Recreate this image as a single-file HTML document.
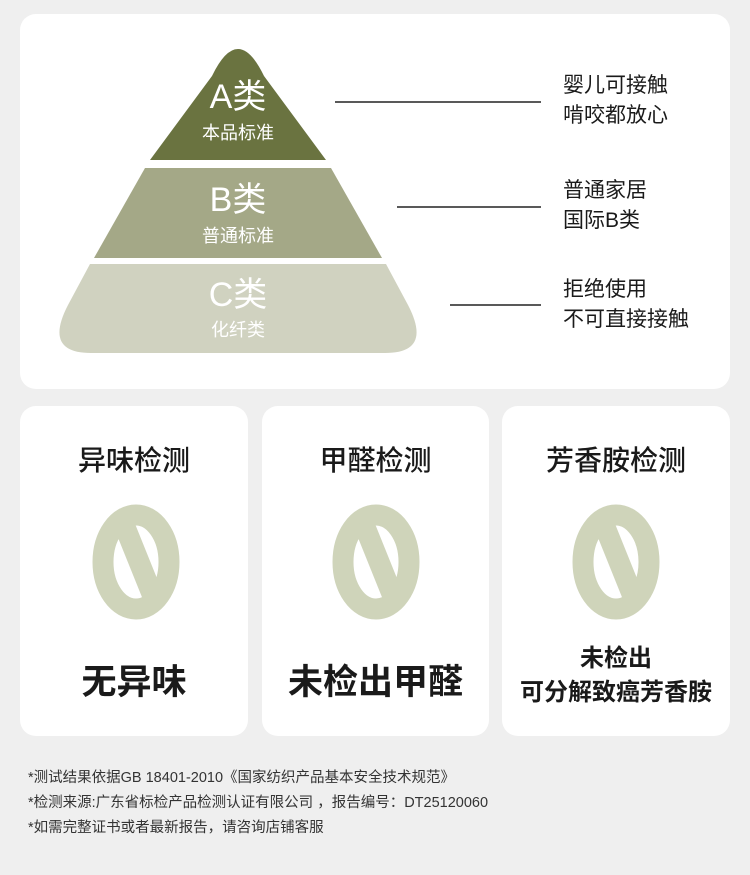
<!DOCTYPE html>
<html><head><meta charset="utf-8"><style>
*{margin:0;padding:0;box-sizing:border-box}
body{width:750px;height:875px;background:#efefef;font-family:"Liberation Sans","Noto Sans CJK SC",sans-serif;position:relative;overflow:hidden;color:#1a1a1a}
.card{position:absolute;background:#fff;border-radius:16px}
.t{position:absolute;white-space:nowrap}
.ct{position:absolute;left:0;right:0;text-align:center;white-space:nowrap}
</style></head><body>
<div class="card" style="left:20px;top:14px;width:710px;height:375px"></div>
<svg style="position:absolute;left:0;top:0" width="750" height="400">
<path d="M150,160 L212,76 Q238,22 264,76 L326,160 Z" fill="#6a7340"/>
<path d="M145,168 L331,168 L382,258 L94,258 Z" fill="#a4a887"/>
<path d="M90,264 L386,264 L408,305 Q433,353 385,353 L91,353 Q43,353 68,305 Z" fill="#d0d2c0"/>
<line x1="335" y1="102" x2="541" y2="102" stroke="#222" stroke-width="1.5"/>
<line x1="397" y1="207" x2="541" y2="207" stroke="#222" stroke-width="1.5"/>
<line x1="450" y1="305" x2="541" y2="305" stroke="#222" stroke-width="1.5"/>
</svg>
<div class="t" style="left:188px;top:78px;width:100px;text-align:center;color:#fff;font-size:34px;line-height:38px">A类</div>
<div class="t" style="left:188px;top:119px;width:100px;text-align:center;color:#fff;font-size:18px">本品标准</div>
<div class="t" style="left:188px;top:181px;width:100px;text-align:center;color:#fff;font-size:34px;line-height:38px">B类</div>
<div class="t" style="left:188px;top:222px;width:100px;text-align:center;color:#fff;font-size:18px">普通标准</div>
<div class="t" style="left:188px;top:276px;width:100px;text-align:center;color:#fff;font-size:34px;line-height:38px">C类</div>
<div class="t" style="left:188px;top:316px;width:100px;text-align:center;color:#fff;font-size:18px">化纤类</div>
<div class="t" style="left:563px;top:71px;font-size:21px;line-height:30px">婴儿可接触<br>啃咬都放心</div>
<div class="t" style="left:563px;top:176px;font-size:21px;line-height:30px">普通家居<br>国际B类</div>
<div class="t" style="left:563px;top:275px;font-size:21px;line-height:30px">拒绝使用<br>不可直接接触</div>

<div class="card" style="left:20px;top:406px;width:228px;height:330px">
<div class="ct" style="top:33px;font-size:28px;font-weight:500">异味检测</div>
<div class="ct" style="top:248px;font-size:35px;font-weight:bold">无异味</div>
</div>
<div class="card" style="left:262px;top:406px;width:227px;height:330px">
<div class="ct" style="top:33px;font-size:28px;font-weight:500">甲醛检测</div>
<div class="ct" style="top:248px;font-size:35px;font-weight:bold">未检出甲醛</div>
</div>
<div class="card" style="left:502px;top:406px;width:228px;height:330px">
<div class="ct" style="top:33px;font-size:28px;font-weight:500">芳香胺检测</div>
<div class="ct" style="top:236px;font-size:24px;line-height:34px;font-weight:bold">未检出<br>可分解致癌芳香胺</div>
</div>
<svg style="position:absolute;left:0;top:490px" width="750" height="140">
<g fill="none" stroke="#cfd4ba" stroke-width="21">
<ellipse cx="136" cy="72" rx="33" ry="47"/><line x1="123" y1="32" x2="152" y2="104"/>
<ellipse cx="376" cy="72" rx="33" ry="47"/><line x1="363" y1="32" x2="392" y2="104"/>
<ellipse cx="616" cy="72" rx="33" ry="47"/><line x1="603" y1="32" x2="632" y2="104"/>
</g>
</svg>
<div class="t" style="left:28px;top:766px;font-size:14.5px;line-height:25px;color:#333">*测试结果依据GB 18401-2010《国家纺织产品基本安全技术规范》<br>*检测来源:广东省标检产品检测认证有限公司 ，报告编号：DT25120060<br>*如需完整证书或者最新报告，请咨询店铺客服</div>
</body></html>
